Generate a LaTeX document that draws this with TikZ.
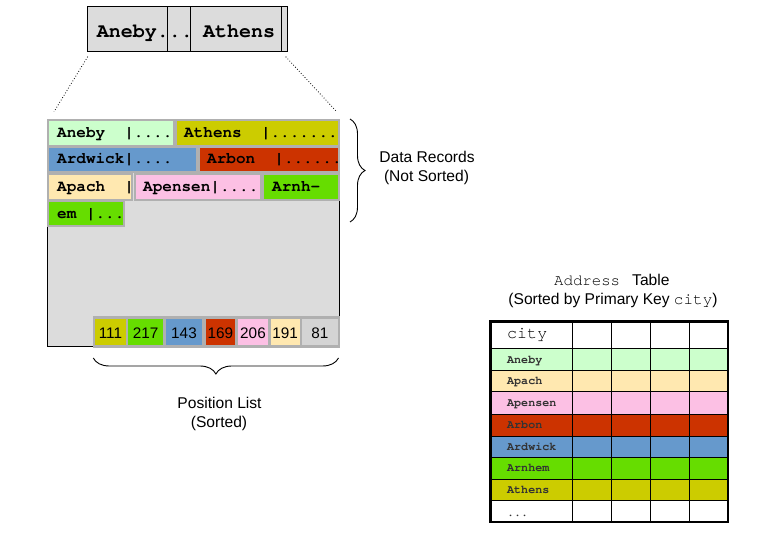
\documentclass[tikz,border=0pt]{standalone}
\usepackage{fontspec}
\setmainfont{Liberation Sans}
\newfontfamily\cour{texgyrecursor-regular.otf}[BoldFont=texgyrecursor-bold.otf]
\usetikzlibrary{decorations.pathreplacing}

\definecolor{cLG}{HTML}{CCFFCC}
\definecolor{cOlive}{HTML}{CCCC00}
\definecolor{cBlue}{HTML}{6699CC}
\definecolor{cRed}{HTML}{CC3300}
\definecolor{cPeach}{HTML}{FFE8B0}
\definecolor{cPink}{HTML}{FCC0E4}
\definecolor{cGreen}{HTML}{66DD00}
\definecolor{cGray}{HTML}{DCDCDC}
\definecolor{cBorder}{HTML}{B0B0B0}
\definecolor{cCell}{HTML}{D4D4D4}
\definecolor{cTxt}{HTML}{333333}

\begin{document}
\begin{tikzpicture}[x=1pt,y=-1pt,
  rec/.style={draw=cBorder, line width=2pt},
  rtxt/.style={font=\cour\bfseries\fontsize{16}{19}\selectfont, anchor=base west, inner sep=0pt},
  toptxt/.style={font=\cour\bfseries\fontsize{20}{24}\selectfont, anchor=base west, inner sep=0pt},
  sans/.style={font=\fontsize{15.6}{18}\selectfont, anchor=base, inner sep=0pt},
  num/.style={font=\fontsize{15.3}{18}\selectfont, anchor=base, inner sep=0pt},
  tlab/.style={font=\cour\bfseries\fontsize{11.7}{14}\selectfont, text=cTxt, anchor=base west, inner sep=0pt},
  zoomline/.style={line width=0.8pt, dash pattern=on 0.8pt off 2pt},
  bracestyle/.style={line width=0.9pt, decorate},
  grid/.style={line width=1pt}
]
\useasboundingbox (0,0) rectangle (780,540);

% ---------- top (zoomed) strip ----------
\draw[fill=cGray, line width=1pt] (87,6.5) rectangle (287,52);
\node[toptxt] (tAneby) at (96.7,37.5) {Aneby...};
\node[toptxt] (tAthens) at (203,37.5) {Athens};
\draw[line width=1pt] (167,6.5) -- (167,52);
\draw[line width=1pt] (190,6.5) -- (190,52);
\draw[line width=1pt] (281.5,6.5) -- (281.5,52);

\coordinate (ztl) at (87.7,56.7);
\coordinate (zbl) at (54,111.7);
\coordinate (ztr) at (285.7,56.7);
\coordinate (zbr) at (336.7,111.7);
\draw[zoomline] (ztl) -- (zbl);
\draw[zoomline] (ztr) -- (zbr);

% ---------- page ----------
\draw[fill=cGray, line width=1pt] (47.5,119.5) rectangle (339,347);

% row 1
\draw[rec, fill=cLG] (48,120) rectangle (174,146.5);
\draw[rec, fill=cOlive] (176,120) rectangle (338.5,146.5);
% row 2
\draw[rec, fill=cBlue] (48,147) rectangle (197,172);
\draw[rec, fill=cRed] (199,147) rectangle (338.5,172);
% row 3
\draw[rec, fill=cPeach] (48,174) rectangle (132,200);
\draw[rec, fill=cPink] (134.7,174) rectangle (261,200);
\draw[rec, fill=cGreen] (263,174) rectangle (338.5,200);
% row 4
\draw[rec, fill=cGreen] (48,201) rectangle (123.7,226.5);

\node[rtxt] (r1) at (57,137.5) {Aneby\ \ |....};
\node[rtxt] (r2) at (184,137.5) {Athens\ \ |.......};
\node[rtxt] (r3) at (57,164) {Ardwick|....};
\node[rtxt] (r4) at (207,164) {Arbon\ \ |......};
\node[rtxt] (r5) at (57,191.5) {Apach\ \ |};
\node[rtxt] (r6) at (143,191.5) {Apensen|....};
\node[rtxt] (r7) at (272,191.5) {Arnh-};
\node[rtxt] (r8) at (57,219) {em\ |...};

% position list
\fill[cBorder] (93,316.5) rectangle (339.5,347.7);
\fill[cOlive] (95,318.7) rectangle (126,345.5);
\fill[cGreen] (128,318.7) rectangle (163.3,345.5);
\fill[cBlue] (165.7,318.7) rectangle (202.3,345.5);
\fill[cRed] (205.7,318.7) rectangle (235,345.5);
\fill[cPink] (237.7,318.7) rectangle (268.3,345.5);
\fill[cPeach] (270.7,318.7) rectangle (299.7,345.5);
\fill[cCell] (302.3,318.7) rectangle (337.7,345.5);
\node[num] (p1) at (110.5,338) {111};
\node[num] (p2) at (145.7,338) {217};
\node[num] (p3) at (184,338) {143};
\node[num] (p4) at (220.3,338) {169};
\node[num] (p5) at (253,338) {206};
\node[num] (p6) at (285.2,338) {191};
\node[num] (p7) at (320,338) {81};

% braces
\coordinate (bt) at (350,119);
\coordinate (bb) at (350,222);
\draw[bracestyle, decoration={brace, amplitude=15pt}] (bt) -- (bb);
\coordinate (pr) at (338.5,358);
\coordinate (pl) at (93.3,358);
\draw[bracestyle, decoration={brace, amplitude=16pt}] (pr) -- (pl);

\node[sans] (dr1) at (427,163) {Data Records};
\node[sans] (dr2) at (426.5,182) {(Not Sorted)};
\node[sans] (pl1) at (219.5,409) {Position List};
\node[sans] (pl2) at (219,427) {(Sorted)};

% ---------- address table ----------
\node[font=\cour\fontsize{15.7}{18}\selectfont, anchor=base west, inner sep=0pt] (at1) at (554,286) {Address};
\node[font=\fontsize{15.6}{18}\selectfont, anchor=base west, inner sep=0pt] (at2) at (632,286) {Table};
\node[sans] (at3) at (613,305) {(Sorted by Primary Key {\cour\fontsize{16}{18}\selectfont city})};

\fill[white] (490,321) rectangle (728.5,349);
\fill[cLG] (490,349) rectangle (728.5,370.5);
\fill[cPeach] (490,370.5) rectangle (728.5,392);
\fill[cPink] (490,392) rectangle (728.5,414);
\fill[cRed] (490,414) rectangle (728.5,436);
\fill[cBlue] (490,436) rectangle (728.5,457.5);
\fill[cGreen] (490,457.5) rectangle (728.5,479);
\fill[cOlive] (490,479) rectangle (728.5,500.5);
\fill[white] (490,500.5) rectangle (728.5,522);

\foreach \yy in {349,370.5,392,414,436,457.5,479,500.5}
  \draw[grid] (490,\yy) -- (728.5,\yy);
\foreach \xx in {572,611.5,650.5,689.5}
  \draw[grid] (\xx,321) -- (\xx,522);
\draw[line width=2.7pt] (490.3,321.3) rectangle (728,522);

\node[font=\cour\fontsize{16.7}{18}\selectfont, anchor=base west, inner sep=0pt] (hc) at (507,339) {city};
\node[tlab] (l1) at (507,363.3) {Aneby};
\node[tlab] (l2) at (507,384.8) {Apach};
\node[tlab] (l3) at (507,406.5) {Apensen};
\node[tlab] (l4) at (507,428.5) {Arbon};
\node[tlab] (l5) at (507,450.3) {Ardwick};
\node[tlab] (l6) at (507,471.8) {Arnhem};
\node[tlab] (l7) at (507,493.3) {Athens};
\node[tlab] (l8) at (507,516) {...};
\end{tikzpicture}
\end{document}
